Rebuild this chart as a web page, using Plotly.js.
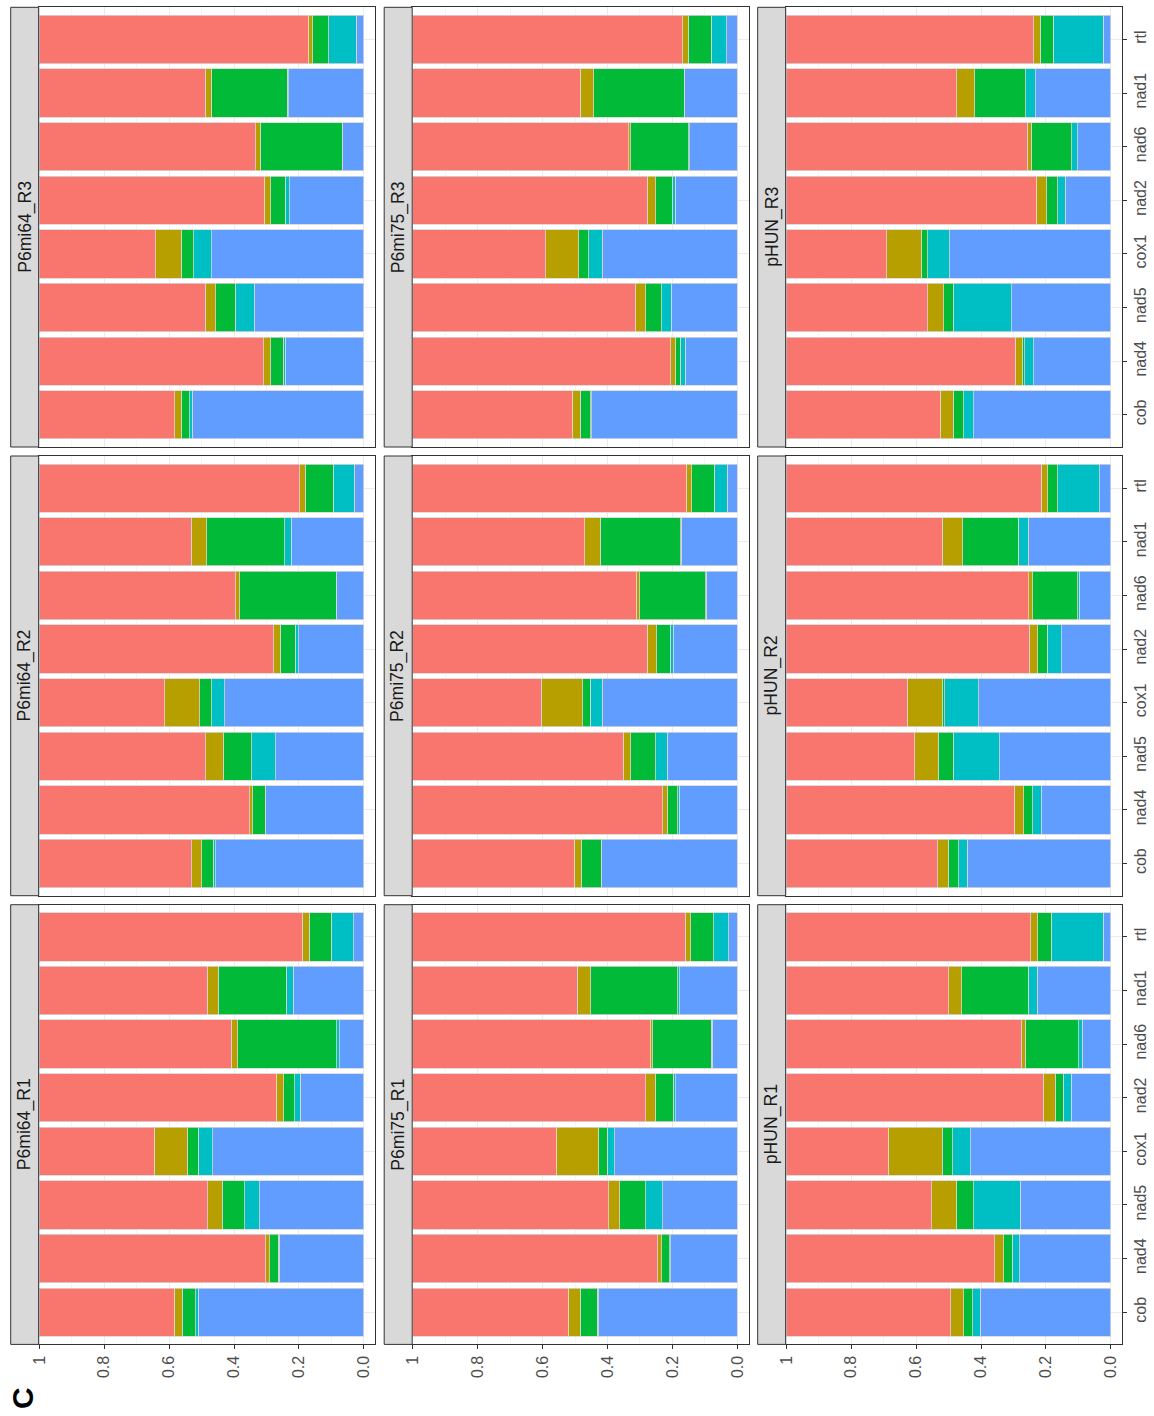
<!DOCTYPE html>
<html>
<head>
<meta charset="utf-8">
<script src="https://cdn.plot.ly/plotly-3.0.1.min.js"></script>
<style>html,body{margin:0;padding:0;background:#fff;}#chart{width:1154px;height:1416px;}</style>
</head>
<body>
<div id="chart"></div>
<script>
// ---------------- DATA ----------------
const categories = ['cob','nad4','nad5','cox1','nad2','nad6','nad1','rtl'];
const valueTicks = [0, 0.2, 0.4, 0.6, 0.8, 1];
const valueTickText = ['0.0','0.2','0.4','0.6','0.8','1'];
const panelNames = ['P6mi64_R1','P6mi64_R2','P6mi64_R3','P6mi75_R1','P6mi75_R2','P6mi75_R3','pHUN_R1','pHUN_R2','pHUN_R3'];

// segment values per panel (order of categories above); stacked from 0: blue, cyan, green, olive, red
const P6mi64_R1_blue  = [0.511,0.260,0.321,0.465,0.196,0.075,0.217,0.031];
const P6mi64_R1_cyan  = [0.007,0.004,0.046,0.046,0.017,0.008,0.022,0.070];
const P6mi64_R1_green = [0.041,0.026,0.069,0.033,0.034,0.305,0.209,0.067];
const P6mi64_R1_olive = [0.026,0.013,0.045,0.102,0.023,0.021,0.035,0.022];
const P6mi64_R1_red   = [0.415,0.697,0.519,0.354,0.730,0.591,0.517,0.810];

const P6mi64_R2_blue  = [0.457,0.303,0.272,0.429,0.201,0.084,0.223,0.029];
const P6mi64_R2_cyan  = [0.007,0.001,0.074,0.039,0.011,0.001,0.020,0.066];
const P6mi64_R2_green = [0.036,0.039,0.088,0.038,0.046,0.298,0.241,0.086];
const P6mi64_R2_olive = [0.031,0.008,0.053,0.107,0.019,0.012,0.048,0.017];
const P6mi64_R2_red   = [0.469,0.649,0.513,0.387,0.723,0.605,0.468,0.802];

const P6mi64_R3_blue  = [0.529,0.242,0.337,0.469,0.229,0.065,0.232,0.023];
const P6mi64_R3_cyan  = [0.007,0.007,0.059,0.055,0.013,0.001,0.004,0.085];
const P6mi64_R3_green = [0.026,0.038,0.061,0.039,0.045,0.253,0.235,0.050];
const P6mi64_R3_olive = [0.021,0.022,0.031,0.078,0.020,0.014,0.018,0.014];
const P6mi64_R3_red   = [0.417,0.691,0.512,0.359,0.693,0.667,0.511,0.828];

const P6mi75_R1_blue  = [0.429,0.206,0.230,0.378,0.190,0.077,0.177,0.027];
const P6mi75_R1_cyan  = [0.002,0.002,0.053,0.023,0.008,0.004,0.007,0.046];
const P6mi75_R1_green = [0.053,0.025,0.080,0.028,0.055,0.179,0.268,0.070];
const P6mi75_R1_olive = [0.037,0.012,0.034,0.129,0.030,0.009,0.041,0.017];
const P6mi75_R1_red   = [0.479,0.755,0.603,0.442,0.717,0.731,0.507,0.840];

const P6mi75_R2_blue  = [0.418,0.179,0.216,0.417,0.197,0.096,0.173,0.031];
const P6mi75_R2_cyan  = [0.001,0.005,0.035,0.036,0.010,0.001,0.001,0.040];
const P6mi75_R2_green = [0.062,0.032,0.077,0.024,0.042,0.203,0.249,0.070];
const P6mi75_R2_olive = [0.021,0.014,0.024,0.127,0.028,0.011,0.047,0.017];
const P6mi75_R2_red   = [0.498,0.770,0.648,0.396,0.723,0.689,0.530,0.842];

const P6mi75_R3_blue  = [0.449,0.160,0.203,0.416,0.191,0.146,0.163,0.033];
const P6mi75_R3_cyan  = [0.003,0.016,0.030,0.042,0.010,0.003,0.001,0.048];
const P6mi75_R3_green = [0.032,0.016,0.049,0.031,0.050,0.180,0.279,0.070];
const P6mi75_R3_olive = [0.025,0.013,0.032,0.102,0.026,0.006,0.041,0.017];
const P6mi75_R3_red   = [0.491,0.795,0.686,0.409,0.723,0.665,0.516,0.832];

const pHUN_R1_blue  = [0.403,0.280,0.279,0.432,0.122,0.088,0.227,0.024];
const pHUN_R1_cyan  = [0.023,0.024,0.144,0.055,0.024,0.011,0.027,0.160];
const pHUN_R1_green = [0.027,0.026,0.053,0.032,0.026,0.165,0.206,0.041];
const pHUN_R1_olive = [0.041,0.028,0.076,0.167,0.037,0.012,0.040,0.022];
const pHUN_R1_red   = [0.506,0.642,0.448,0.314,0.791,0.724,0.500,0.753];

const pHUN_R2_blue  = [0.443,0.215,0.342,0.407,0.151,0.098,0.254,0.034];
const pHUN_R2_cyan  = [0.025,0.026,0.143,0.105,0.045,0.004,0.032,0.130];
const pHUN_R2_green = [0.033,0.027,0.047,0.007,0.030,0.139,0.170,0.030];
const pHUN_R2_olive = [0.033,0.030,0.072,0.108,0.025,0.012,0.063,0.020];
const pHUN_R2_red   = [0.466,0.702,0.396,0.373,0.749,0.747,0.481,0.786];

const pHUN_R3_blue  = [0.422,0.238,0.305,0.497,0.140,0.102,0.231,0.023];
const pHUN_R3_cyan  = [0.031,0.027,0.180,0.068,0.024,0.019,0.032,0.155];
const pHUN_R3_green = [0.032,0.008,0.030,0.019,0.034,0.124,0.157,0.040];
const pHUN_R3_olive = [0.040,0.022,0.050,0.107,0.032,0.013,0.055,0.020];
const pHUN_R3_red   = [0.475,0.705,0.435,0.309,0.770,0.742,0.525,0.762];

const panelData = [
  [P6mi64_R1_blue,P6mi64_R1_cyan,P6mi64_R1_green,P6mi64_R1_olive,P6mi64_R1_red],
  [P6mi64_R2_blue,P6mi64_R2_cyan,P6mi64_R2_green,P6mi64_R2_olive,P6mi64_R2_red],
  [P6mi64_R3_blue,P6mi64_R3_cyan,P6mi64_R3_green,P6mi64_R3_olive,P6mi64_R3_red],
  [P6mi75_R1_blue,P6mi75_R1_cyan,P6mi75_R1_green,P6mi75_R1_olive,P6mi75_R1_red],
  [P6mi75_R2_blue,P6mi75_R2_cyan,P6mi75_R2_green,P6mi75_R2_olive,P6mi75_R2_red],
  [P6mi75_R3_blue,P6mi75_R3_cyan,P6mi75_R3_green,P6mi75_R3_olive,P6mi75_R3_red],
  [pHUN_R1_blue,pHUN_R1_cyan,pHUN_R1_green,pHUN_R1_olive,pHUN_R1_red],
  [pHUN_R2_blue,pHUN_R2_cyan,pHUN_R2_green,pHUN_R2_olive,pHUN_R2_red],
  [pHUN_R3_blue,pHUN_R3_cyan,pHUN_R3_green,pHUN_R3_olive,pHUN_R3_red]
];
const seriesNames = ['5','4','3','2','1'];
const seriesColors = ['#619CFF','#00BFC4','#00BA38','#B79F00','#F8766D'];

// ---------------- LAYOUT ----------------
const W = 1154, H = 1416;
const colLeft = [10.7, 384.2, 757.7];
const stripW = 28, panelW = 336.5;
const rowTop = [904.7, 456, 7.3]; // R1 bottom, R2 middle, R3 top
const panelH = 439.7;
const FONT = 'Liberation Sans, Arial, Helvetica, sans-serif';

const traces = [];
const layout = {
  width: W, height: H,
  margin: {l:0, r:0, t:0, b:0, pad:0},
  paper_bgcolor: '#ffffff', plot_bgcolor: '#ffffff',
  barmode: 'stack', bargap: 0.1,
  showlegend: false,
  font: {family: FONT, color: '#4D4D4D'},
  shapes: [], annotations: []
};

for (let c = 0; c < 3; c++) {
  for (let r = 0; r < 3; r++) {
    const k = c*3 + r;
    const n = k + 1;
    const xa = n === 1 ? 'x' : 'x' + n;
    const ya = n === 1 ? 'y' : 'y' + n;
    const xKey = n === 1 ? 'xaxis' : 'xaxis' + n;
    const yKey = n === 1 ? 'yaxis' : 'yaxis' + n;
    const x0 = (colLeft[c] + stripW) / W, x1 = (colLeft[c] + stripW + panelW) / W;
    const y1 = 1 - rowTop[r] / H, y0 = 1 - (rowTop[r] + panelH) / H;

    for (let s = 0; s < 5; s++) {
      traces.push({
        type: 'bar', orientation: 'h',
        x: panelData[k][s], y: categories,
        xaxis: xa, yaxis: ya,
        name: seriesNames[s],
        marker: {color: seriesColors[s], line: {color: '#D6D6D6', width: 0.8}},
        hoverinfo: 'x+y+name'
      });
    }

    const bottom = (r === 0);
    const right = (c === 2);
    layout[xKey] = {
      domain: [x0, x1], anchor: ya,
      range: [1.002, -0.035],
      tickvals: valueTicks, ticktext: valueTickText,
      showticklabels: bottom, ticks: bottom ? 'outside' : '',
      ticklen: 4, tickwidth: 1, tickcolor: '#333333',
      tickangle: -90,
      tickfont: {family: FONT, size: 16, color: '#4D4D4D'},
      showgrid: true, gridcolor: '#EBEBEB', gridwidth: 1,
      minor: {tickvals: [0.1,0.3,0.5,0.7,0.9], showgrid: true, gridcolor: '#F3F3F3', gridwidth: 0.8},
      zeroline: false,
      showline: true, mirror: true, linecolor: '#333333', linewidth: 1,
      fixedrange: true
    };
    layout[yKey] = {
      domain: [y0, y1], anchor: xa,
      type: 'category', categoryorder: 'array', categoryarray: categories,
      range: [-0.6, 7.6],
      side: 'right',
      showticklabels: right, ticks: right ? 'outside' : '',
      ticklen: 4, tickwidth: 1, tickcolor: '#333333',
      tickangle: -90,
      ticklabelstandoff: 0,
      tickfont: {family: FONT, size: 16, color: '#4D4D4D'},
      showgrid: true, gridcolor: '#EBEBEB', gridwidth: 1,
      zeroline: false,
      showline: true, mirror: true, linecolor: '#333333', linewidth: 1,
      fixedrange: true
    };

    // strip
    layout.shapes.push({
      type: 'rect', xref: 'paper', yref: 'paper',
      x0: colLeft[c] / W, x1: (colLeft[c] + stripW) / W, y0: y0, y1: y1,
      fillcolor: '#D9D9D9', line: {color: '#333333', width: 1}
    });
    layout.annotations.push({
      xref: 'paper', yref: 'paper',
      x: (colLeft[c] + stripW / 2) / W, y: (y0 + y1) / 2,
      xanchor: 'center', yanchor: 'middle',
      text: panelNames[k], textangle: -90, showarrow: false,
      font: {family: FONT, size: 17.6, color: '#1A1A1A'}
    });
  }
}

layout.annotations.push({
  xref: 'paper', yref: 'paper',
  x: 22 / W, y: 1 - 1398 / H,
  xanchor: 'center', yanchor: 'middle',
  text: '<b>C</b>', textangle: -90, showarrow: false,
  font: {family: FONT, size: 30, color: '#000000'}
});

Plotly.newPlot('chart', traces, layout, {displayModeBar: false, staticPlot: true});
</script>
</body>
</html>
